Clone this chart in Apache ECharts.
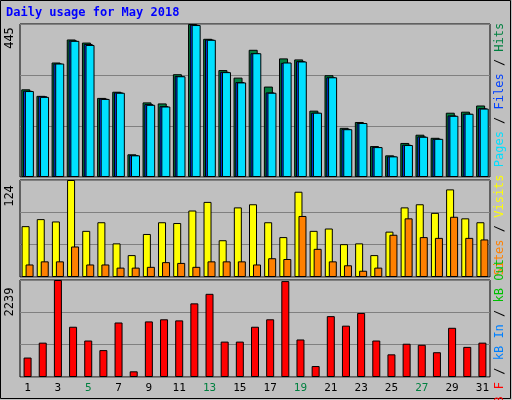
<!DOCTYPE html>
<html><head><meta charset="utf-8">
<script src="https://cdn.jsdelivr.net/npm/echarts@6/dist/echarts.min.js"></script>
<style>body{margin:0;background:#c0c0c0}#c{width:512px;height:400px}</style>
</head><body><div id="c"></div>
<script>
var chart = echarts.init(document.getElementById('c'));
var days = [];
for (var d = 1; d <= 31; d++) days.push(String(d));
var weekends = ['5','6','12','13','19','20','26','27'];
var hits  = [255,236,333,400,391,230,248,66,217,214,299,445,402,311,289,370,263,345,342,193,296,143,160,90,63,99,123,114,187,190,208];
var files = [251,235,330,397,387,228,246,64,212,206,294,443,400,306,276,360,246,332,337,187,290,140,157,87,60,94,118,111,179,184,200];
var pages = [250,233,330,396,384,227,245,63,210,205,293,442,399,305,275,360,245,333,336,187,290,139,157,87,60,93,117,111,178,184,199];
var visits = [65,74,71,124,59,70,43,28,55,70,69,85,96,47,89,93,70,51,109,59,62,42,43,28,58,89,93,82,112,75,70];
var sites  = [16,20,20,39,16,16,12,12,13,19,18,13,20,20,20,16,24,23,78,36,20,15,8,12,54,75,51,50,77,50,48];
var kbytes = [449,793,2239,1160,842,621,1258,131,1283,1332,1307,1700,1920,817,817,1160,1332,2214,866,253,1405,1185,1479,842,523,768,744,572,1136,695,793];

var mono = 'DejaVu Sans Mono';
var grids = [
    {left: 20, right: 22, top: 24, height: 153},
    {left: 20, right: 22, top: 180, height: 97},
    {left: 20, right: 22, top: 280, height: 97}
];
grids.forEach(function (g) { g.show = true; g.borderColor = '#000'; g.borderWidth = 1; g.backgroundColor = '#c0c0c0'; });
var maxes = [445, 124, 2239];
function xa(i) {
    return {type: 'category', gridIndex: i, data: days,
        axisLine: {show: false}, axisTick: {show: false}, splitLine: {show: false},
        axisLabel: {show: i === 2, fontFamily: mono, fontSize: 11, margin: 6,
            color: function (v) { return weekends.indexOf(v) >= 0 ? '#008040' : '#000'; }}};
}
function ya(i) {
    return {type: 'value', gridIndex: i, min: 0, max: maxes[i], interval: maxes[i] / 3,
        axisLabel: {show: false}, axisLine: {show: false}, axisTick: {show: false},
        splitLine: {lineStyle: {color: '#808080', width: 1}}};
}
var bs = {borderColor: '#000', borderWidth: 1};
function bar(name, data, i, color, width, gap) {
    return {name: name, type: 'bar', xAxisIndex: i, yAxisIndex: i, data: data,
        barWidth: width, barGap: gap, itemStyle: Object.assign({color: color}, bs), animation: false};
}
function vtext(x, y, parts) {
    return {type: 'text', x: x, y: y, rotation: Math.PI / 2,
        style: {text: parts.map(function (p) { return '{' + p[0] + '|' + p[1] + '}'; }).join(''),
            fontFamily: mono, fontSize: 12, align: 'center', verticalAlign: 'middle',
            rich: {a: {fill: '#00e0ff', fontFamily: mono, fontSize: 12}, b: {fill: '#0040ff', fontFamily: mono, fontSize: 12},
                c: {fill: '#008040', fontFamily: mono, fontSize: 12}, k: {fill: '#000', fontFamily: mono, fontSize: 12},
                y: {fill: '#ffff00', fontFamily: mono, fontSize: 12}, o: {fill: '#ff8000', fontFamily: mono, fontSize: 12},
                r: {fill: '#ff0000', fontFamily: mono, fontSize: 12}, i: {fill: '#0080ff', fontFamily: mono, fontSize: 12},
                g: {fill: '#00c000', fontFamily: mono, fontSize: 12}}}};
}
var option = {
    backgroundColor: '#c0c0c0',
    grid: grids,
    xAxis: [xa(0), xa(1), xa(2)],
    yAxis: [ya(0), ya(1), ya(2)],
    series: [
        bar('Hits', hits, 0, '#008040', 9, '-80%'),
        bar('Files', files, 0, '#0040ff', 9, '-80%'),
        bar('Pages', pages, 0, '#00e0ff', 9, '-80%'),
        bar('Visits', visits, 1, '#ffff00', 8, '-50%'),
        bar('Sites', sites, 1, '#ff8000', 8, '-50%'),
        bar('kB F', kbytes, 2, '#ff0000', 8, '0%')
    ],
    graphic: [
        {type: 'rect', shape: {x: 0.5, y: 0.5, width: 510, height: 398}, style: {fill: 'none', stroke: '#000', lineWidth: 1}},
        {type: 'text', x: 6, y: 7, style: {text: 'Daily usage for May 2018', fill: '#0000ff', fontFamily: mono, fontSize: 12, fontWeight: 'bold'}},
        {type: 'text', x: 10, y: 38, rotation: Math.PI / 2, style: {text: '445', fontFamily: mono, fontSize: 12, fill: '#000', align: 'center', verticalAlign: 'middle'}},
        {type: 'text', x: 10, y: 196, rotation: Math.PI / 2, style: {text: '124', fontFamily: mono, fontSize: 12, fill: '#000', align: 'center', verticalAlign: 'middle'}},
        {type: 'text', x: 10, y: 302, rotation: Math.PI / 2, style: {text: '2239', fontFamily: mono, fontSize: 12, fill: '#000', align: 'center', verticalAlign: 'middle'}},
        vtext(500, 95, [['a', 'Pages'], ['k', ' / '], ['b', 'Files'], ['k', ' / '], ['c', 'Hits']]),
        vtext(500, 225, [['o', 'Sites'], ['k', ' / '], ['y', 'Visits']]),
        vtext(500, 335, [['r', 'kB F'], ['k', ' / '], ['i', 'kB In'], ['k', ' / '], ['g', 'kB Out']])
    ]
};
chart.setOption(option);
</script>
</body></html>
